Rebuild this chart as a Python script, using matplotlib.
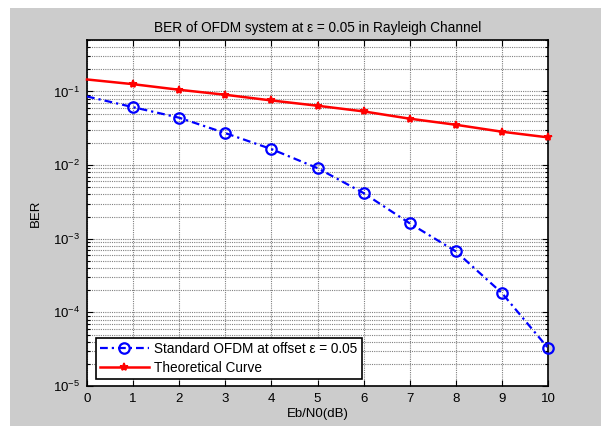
import numpy as np
import matplotlib.pyplot as plt
from matplotlib.patches import Rectangle

plt.rcParams['font.family'] = ['Liberation Sans', 'DejaVu Sans']
plt.rcParams['mathtext.fontset'] = 'custom'
plt.rcParams['mathtext.rm'] = 'Liberation Sans'
plt.rcParams['mathtext.it'] = 'Liberation Sans:italic'
plt.rcParams['font.size'] = 9.5

# Eb/N0 in dB
ebno = [0, 1, 2, 3, 4, 5, 6, 7, 8, 9, 10]
# simulated BER with carrier frequency offset 0.05
ber_sim = [0.0855, 0.0612, 0.0440, 0.0272, 0.0165, 0.0091, 0.00417,
           0.00162, 0.000673, 0.000183, 3.28e-5]
# theoretical BER
ber_theory = [0.1455, 0.1256, 0.1054, 0.0902, 0.0755, 0.0640, 0.0536,
              0.0427, 0.0353, 0.0284, 0.0238]

fig = plt.figure(figsize=(6.01, 4.26), dpi=100)
fig.patch.set_facecolor('white')
# grey figure area like a MATLAB window
fig.patches.append(Rectangle((10 / 601, 0), 1, 1 - 8 / 426, transform=fig.transFigure,
                             facecolor='#cccccc', edgecolor='none', zorder=-10))

ax = fig.add_axes([87 / 601, 40 / 426, 461 / 601, 346 / 426])
ax.set_facecolor('white')

ax.semilogy(ebno, ber_sim, color='blue', linestyle=(0, (3.5, 1.8, 1, 1.8)), linewidth=1.6,
            marker='o', markersize=7.5, markerfacecolor='none', markeredgewidth=1.6,
            markevery=list(range(1, len(ebno))),
            label='Standard OFDM at offset \u03b5 = 0.05', clip_on=False, zorder=3)
ax.semilogy(ebno, ber_theory, color='red', linestyle='-', linewidth=1.8,
            marker='*', markersize=6, markeredgewidth=1.2,
            markevery=list(range(1, len(ebno))),
            label='Theoretical Curve', clip_on=False, zorder=3)

ax.set_xlim(0, 10)
ax.set_ylim(1e-5, 0.5)
ax.set_xticks(range(0, 11))
ax.set_yticks([1e-5, 1e-4, 1e-3, 1e-2, 1e-1])
ax.set_yticklabels([r'$10^{-5}$', r'$10^{-4}$', r'$10^{-3}$', r'$10^{-2}$', r'$10^{-1}$'],
                   fontsize=10)

ax.grid(True, which='major', color='#808080', linestyle=(0, (1, 1)), linewidth=0.8)
ax.grid(True, which='minor', axis='y', color='#808080', linestyle=(0, (1, 1)), linewidth=0.8)
ax.tick_params(which='both', direction='in', top=True, right=True, labelsize=9.5, pad=5)
ax.tick_params(which='major', length=4, width=0.8)
ax.tick_params(which='minor', length=2.5, width=0.8)
for sp in ax.spines.values():
    sp.set_linewidth(1.2)
    sp.set_color('black')

ax.set_title('BER of OFDM system at \u03b5 = 0.05 in Rayleigh Channel', fontsize=9.8, pad=6)
ax.set_xlabel('Eb/N0(dB)', fontsize=9.5, labelpad=2)
ax.set_ylabel('BER', fontsize=9.5, labelpad=8)

leg = ax.legend(loc='lower left', bbox_to_anchor=(0.019, 0.02), fontsize=9.8,
                fancybox=False, framealpha=1, edgecolor='black',
                handlelength=3.6, borderpad=0.3, labelspacing=0.35,
                handletextpad=0.4, borderaxespad=0)
leg.get_frame().set_linewidth(1.2)

fig.savefig('out.png', dpi=100, facecolor=fig.get_facecolor())
